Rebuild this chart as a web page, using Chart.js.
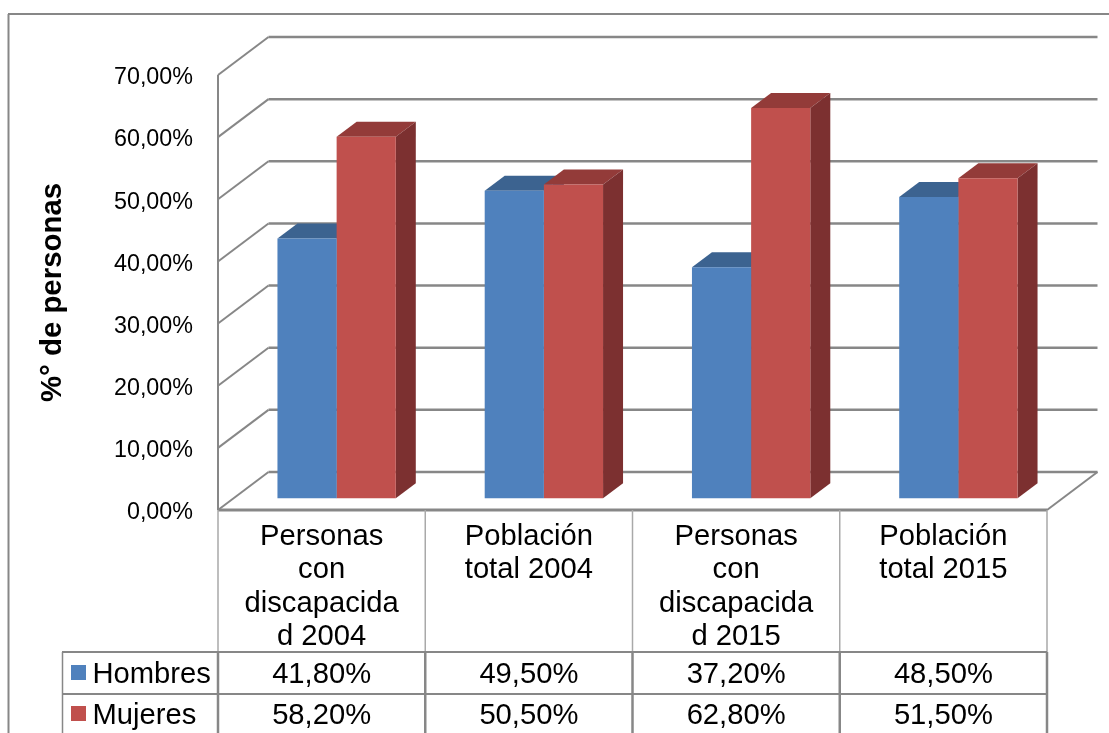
<!DOCTYPE html>
<html lang="es">
<head>
<meta charset="utf-8">
<title>Personas con discapacidad y población total</title>
<script src="https://cdn.jsdelivr.net/npm/chart.js@4"></script>
<style>
html,body{margin:0;padding:0;background:#fff;overflow:hidden}
canvas{display:block}
</style>
</head>
<body>
<canvas id="grafico" width="1109" height="733"></canvas>
<script>
const categorias = [
  ["Personas", "con", "discapacida", "d 2004"],
  ["Población", "total 2004"],
  ["Personas", "con", "discapacida", "d 2015"],
  ["Población", "total 2015"]
];
const hombres = [41.8, 49.5, 37.2, 48.5];
const mujeres = [58.2, 50.5, 62.8, 51.5];
const tickPaso = 10;
const tickMax = 70;

const LINEA = "#878787";
const LINEA_SUAVE = "#a9a9a9";
const FUENTE = '"Liberation Sans", Arial, sans-serif';

// Offsets of the 3D box: back wall relative to the front plane,
// bars relative to the front plane, and the depth of each bar.
const PARED = {x: 50.5, y: -38};
const BARRA = {x: 15, y: -11.7};
const FONDO = {x: 20, y: -15};

const series = [
  {nombre: "Hombres", datos: hombres, frente: "#4f81bd", techo: "#3c6390", lado: "#345680"},
  {nombre: "Mujeres", datos: mujeres, frente: "#c0504d", techo: "#933b39", lado: "#7c3030"}
];

const fmt = v => v.toFixed(2).replace(".", ",") + "%";

function linea(ctx, x1, y1, x2, y2, color, ancho) {
  ctx.strokeStyle = color;
  ctx.lineWidth = ancho;
  ctx.beginPath();
  ctx.moveTo(x1, y1);
  ctx.lineTo(x2, y2);
  ctx.stroke();
}

// Walls, floor and gridlines behind the bars, positioned from the value scale.
const caja3d = {
  id: "caja3d",
  beforeDatasetsDraw(chart) {
    const {ctx, chartArea: a, scales: {x, y}} = chart;
    ctx.save();
    ctx.lineCap = "butt";
    for (let v = 0; v <= tickMax; v += tickPaso) {
      const py = y.getPixelForValue(v);
      linea(ctx, a.left, py, a.left + PARED.x, py + PARED.y, LINEA, 2);
      linea(ctx, a.left + PARED.x, py + PARED.y, a.right + PARED.x, py + PARED.y, LINEA, 2.5);
    }
    const base = y.getPixelForValue(0);
    linea(ctx, a.right, base, a.right + PARED.x, base + PARED.y, LINEA, 2);
    linea(ctx, a.left, y.getPixelForValue(tickMax), a.left, base, LINEA, 2);
    linea(ctx, a.left, base, a.right, base, LINEA, 3);

    // Top and side faces of every bar; the front faces are painted over them.
    ctx.translate(BARRA.x, BARRA.y);
    series.forEach((s, i) => {
      chart.getDatasetMeta(i).data.forEach(b => {
        const r = b.getProps(["x", "y", "base", "width"], true);
        const izq = r.x - r.width / 2, der = r.x + r.width / 2;
        ctx.fillStyle = s.techo;
        ctx.beginPath();
        ctx.moveTo(izq, r.y);
        ctx.lineTo(izq + FONDO.x, r.y + FONDO.y);
        ctx.lineTo(der + FONDO.x, r.y + FONDO.y);
        ctx.lineTo(der, r.y);
        ctx.closePath();
        ctx.fill();
        ctx.fillStyle = s.lado;
        ctx.beginPath();
        ctx.moveTo(der, r.y);
        ctx.lineTo(der + FONDO.x, r.y + FONDO.y);
        ctx.lineTo(der + FONDO.x, r.base + FONDO.y);
        ctx.lineTo(der, r.base);
        ctx.closePath();
        ctx.fill();
      });
    });
    // Kept translated so the library paints the front faces on the bar plane.
  },
  afterDatasetsDraw(chart) {
    chart.ctx.restore();
  },
  afterDraw(chart) {
    const {ctx, chartArea: a, scales: {x, y}} = chart;
    const base = y.getPixelForValue(0);
    const fila1 = 652, fila2 = 694, fin = 733;
    const limites = [];
    categorias.forEach((_, i) => {
      limites.push(x.getPixelForTick(i) - (x.getPixelForTick(1) - x.getPixelForTick(0)) / 2);
    });
    limites.push(a.right);

    ctx.save();
    // Outer frame of the chart
    linea(ctx, 8.5, 14, 8.5, fin, LINEA, 2);
    linea(ctx, 8, 14, 1109, 14, LINEA, 2);

    // Category separators
    limites.forEach(px => linea(ctx, px, base, px, fila1, LINEA_SUAVE, 1.5));

    // Data table under the axis
    linea(ctx, 62, fila1, a.right, fila1, LINEA, 2);
    linea(ctx, 62, fila2, a.right, fila2, LINEA, 2);
    linea(ctx, 62.5, fila1, 62.5, fin, LINEA, 1.5);
    limites.forEach(px => linea(ctx, px, fila1, px, fin, LINEA, 2.5));

    ctx.font = "29.2px " + FUENTE;
    ctx.textBaseline = "alphabetic";
    series.forEach((s, i) => {
      const linBase = i === 0 ? 682.5 : 723.5;
      ctx.fillStyle = s.frente;
      ctx.fillRect(71, linBase - 17.5, 15, 15);
      ctx.fillStyle = "#000";
      ctx.textAlign = "left";
      ctx.fillText(s.nombre, 92.5, linBase);
      ctx.textAlign = "center";
      s.datos.forEach((v, j) => ctx.fillText(fmt(v), x.getPixelForTick(j), linBase));
    });
    ctx.restore();
  }
};

new Chart(document.getElementById("grafico"), {
  type: "bar",
  data: {
    labels: categorias,
    datasets: series.map(s => ({
      label: s.nombre,
      data: s.datos,
      backgroundColor: s.frente,
      borderWidth: 0,
      barPercentage: 1,
      categoryPercentage: 0.571,
      clip: false
    }))
  },
  plugins: [caja3d],
  options: {
    responsive: false,
    animation: false,
    devicePixelRatio: 1,
    layout: {padding: {top: 75, right: 62, bottom: 0, left: 35}},
    plugins: {legend: {display: false}, tooltip: {enabled: false}},
    scales: {
      x: {
        afterFit(s) { s.height = 223; },
        grid: {display: false, drawTicks: false},
        border: {display: false},
        ticks: {
          autoSkip: false, maxRotation: 0, minRotation: 0, padding: 10, color: "#000",
          font: {family: FUENTE, size: 29.2, lineHeight: 1.145}
        }
      },
      y: {
        min: 0,
        max: tickMax,
        afterFit(s) { s.width = 183; },
        grid: {display: false, drawTicks: false},
        border: {display: false},
        title: {
          display: true,
          text: "%° de personas",
          color: "#000",
          padding: 0,
          font: {family: FUENTE, size: 29.4, weight: "bold"}
        },
        ticks: {
          stepSize: tickPaso,
          padding: 25,
          color: "#000",
          // The blank first line drops each label slightly onto its gridline level.
          font: {family: FUENTE, size: 23.3, lineHeight: 0.24},
          callback: v => ["", fmt(v)]
        }
      }
    }
  }
});
</script>
</body>
</html>
